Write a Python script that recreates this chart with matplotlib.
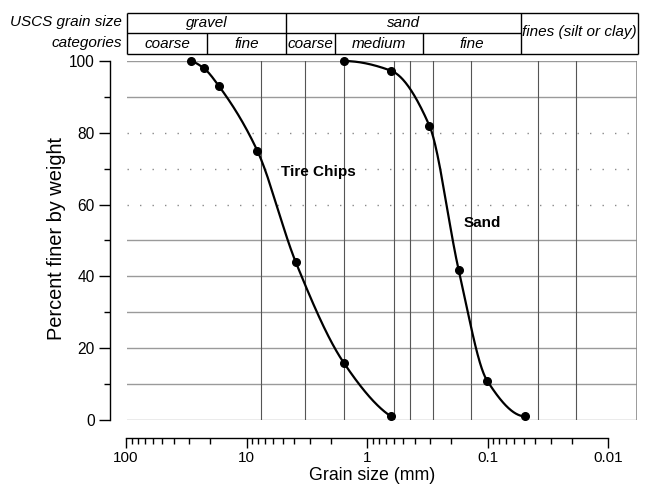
import numpy as np
import matplotlib
matplotlib.use("Agg")
import matplotlib.pyplot as plt

plt.rcParams['font.family'] = ['Liberation Sans', 'DejaVu Sans']

# ---------------- data ----------------
tire_size = [31.5, 25.0, 19.0, 9.5, 4.75, 2.0, 0.85]
tire_pct = [100, 98, 93, 75, 44, 16, 1]
sand_size = [2.0, 0.85, 0.425, 0.25, 0.15, 0.075]
sand_pct = [100, 97.3, 82, 41.7, 11, 1]

vgrid = [8.9, 4.0, 2.0, 0.8, 0.6, 0.4, 0.2, 0.06, 0.03]
hgrid_solid = [0, 10, 20, 30, 40, 50, 90, 100]
hgrid_dotted = [60, 70, 80]

# USCS header
uscs_bounds = [19.0, 4.75, 2.0, 0.425, 0.075]
header_xlim = (77.8, 0.00954)
top_labels = ["gravel", "sand"]
bottom_labels = ["coarse", "fine", "coarse", "medium", "fine"]
fines_label = "fines (silt or clay)"

yticks = [0, 20, 40, 60, 80, 100]
xticks = [100, 10, 1, 0.1, 0.01]
xticklabels = ["100", "10", "1", "0.1", "0.01"]


def pchip(x, y, xn):
    x = np.asarray(x, float); y = np.asarray(y, float)
    h = np.diff(x); d = np.diff(y) / h
    n = len(x); m = np.zeros(n)
    for k in range(1, n - 1):
        if d[k - 1] * d[k] <= 0:
            m[k] = 0
        else:
            w1 = 2 * h[k] + h[k - 1]; w2 = h[k] + 2 * h[k - 1]
            m[k] = (w1 + w2) / (w1 / d[k - 1] + w2 / d[k])
    def endslope(h0, h1, d0, d1):
        s = ((2 * h0 + h1) * d0 - h0 * d1) / (h0 + h1)
        if np.sign(s) != np.sign(d0):
            s = 0
        elif np.sign(d0) != np.sign(d1) and abs(s) > abs(3 * d0):
            s = 3 * d0
        return s
    m[0] = endslope(h[0], h[1], d[0], d[1])
    m[-1] = endslope(h[-1], h[-2], d[-1], d[-2])
    idx = np.clip(np.searchsorted(x, xn) - 1, 0, n - 2)
    t = (xn - x[idx]) / h[idx]
    h00 = 2 * t**3 - 3 * t**2 + 1; h10 = t**3 - 2 * t**2 + t
    h01 = -2 * t**3 + 3 * t**2; h11 = t**3 - t**2
    return h00 * y[idx] + h10 * h[idx] * m[idx] + h01 * y[idx + 1] + h11 * h[idx] * m[idx + 1]


def smooth(sizes, pcts):
    lx = np.log10(sizes)[::-1]
    py = np.asarray(pcts, float)[::-1]
    xn = np.linspace(lx[0], lx[-1], 400)
    return 10 ** xn, pchip(lx, py, xn)


W, H = 652, 490
fig = plt.figure(figsize=(W / 100, H / 100), dpi=100)

# ---------------- main axes ----------------
ax = fig.add_axes([127 / W, 70 / H, 510 / W, 359 / H])
ax.set_xscale('log')
ax.set_xlim(100, 0.01)
ax.set_ylim(0, 100)
for s in ['top', 'bottom', 'right']:
    ax.spines[s].set_visible(False)
ax.spines['left'].set_position(('outward', 12.2))
ax.spines['left'].set_linewidth(1.0)
ax.set_yticks(yticks)
ax.set_yticks(range(10, 100, 20), minor=True)
ax.tick_params(axis='y', which='major', length=8, width=1, labelsize=11.2, pad=3)
ax.tick_params(axis='y', which='minor', length=4.5, width=1)
ax.set_xticks([]); ax.set_xticks([], minor=True)
ax.tick_params(axis='x', which='both', length=0, labelbottom=False)

for yv in hgrid_solid:
    ax.axhline(yv, color='#9a9a9a', lw=1.0, zorder=1)
for yv in hgrid_dotted:
    ax.axhline(yv, color='#8a8a8a', lw=1.0, ls=(0, (1, 8)), zorder=1)
for xv in vgrid:
    ax.axvline(xv, color='#555555', lw=0.8, zorder=1)
ax.axvline(0.01, color='#8a8a8a', lw=1.2, zorder=1)

for sz, pc in [(tire_size, tire_pct), (sand_size, sand_pct)]:
    xs, ys = smooth(sz, pc)
    ax.plot(xs, ys, color='black', lw=1.6, zorder=3, clip_on=False)
    ax.plot(sz, pc, 'o', color='black', ms=5.5, zorder=4, clip_on=False)

ax.text(3.18, 69, "Tire Chips", fontsize=11, fontweight='bold', ha='center', va='center', zorder=5)
ax.text(0.164, 55, "Sand", fontsize=11, fontweight='bold', ha='center', va='center', zorder=5)

# ---------------- bottom axis ----------------
bx = fig.add_axes([126 / W, 52 / H, 482 / W, 0.0001])
bx.set_xscale('log')
bx.set_xlim(100, 0.01)
bx.patch.set_visible(False)
for s in ['top', 'left', 'right']:
    bx.spines[s].set_visible(False)
bx.spines['bottom'].set_linewidth(1.0)
bx.set_yticks([])
bx.set_xticks(xticks)
bx.set_xticklabels(xticklabels)
bx.xaxis.set_minor_locator(matplotlib.ticker.LogLocator(base=10, subs=np.arange(2, 10)))
bx.xaxis.set_minor_formatter(matplotlib.ticker.NullFormatter())
bx.tick_params(axis='x', which='major', length=7, width=1, labelsize=11, pad=2.5)
bx.tick_params(axis='x', which='minor', length=4, width=1)

fig.text(372 / W, (H - 475) / H, "Grain size (mm)", fontsize=12.8, ha='center', va='center')
fig.text(57 / W, (H - 239) / H, "Percent finer by weight", fontsize=14.4, rotation=90,
         ha='center', va='center')

# ---------------- header table ----------------
hx = fig.add_axes([127 / W, (H - 54) / H, 511 / W, 41 / H])
hx.set_xscale('log')
hx.set_xlim(*header_xlim)
hx.set_ylim(0, 2)
hx.axis('off')
lk = dict(color='black', lw=1.0, clip_on=False, solid_capstyle='butt')
L, R = header_xlim
hx.plot([L, R], [2, 2], **lk)
hx.plot([L, R], [0, 0], **lk)
hx.plot([L, uscs_bounds[-1]], [1, 1], **lk)
hx.plot([L, L], [0, 2], **lk)
hx.plot([R, R], [0, 2], **lk)
for b in uscs_bounds:
    top = 2 if b in (4.75, 0.075) else 1
    hx.plot([b, b], [0, top], **lk)

def gmid(a, b):
    return 10 ** ((np.log10(a) + np.log10(b)) / 2)

edges_top = [L, 4.75, 0.075]
for i, lab in enumerate(top_labels):
    hx.text(gmid(edges_top[i], edges_top[i + 1]), 1.5, lab, style='italic', fontsize=11,
            ha='center', va='center')
edges_bot = [L] + uscs_bounds
for i, lab in enumerate(bottom_labels):
    hx.text(gmid(edges_bot[i], edges_bot[i + 1]), 0.5, lab, style='italic', fontsize=11,
            ha='center', va='center')
hx.text(gmid(0.075, R), 1.05, fines_label, style='italic', fontsize=11, ha='center', va='center')

fig.text(122 / W, (H - 22) / H, "USCS grain size", style='italic', fontsize=11, ha='right', va='center')
fig.text(122 / W, (H - 43) / H, "categories", style='italic', fontsize=11, ha='right', va='center')

fig.savefig("out.png", dpi=100)
